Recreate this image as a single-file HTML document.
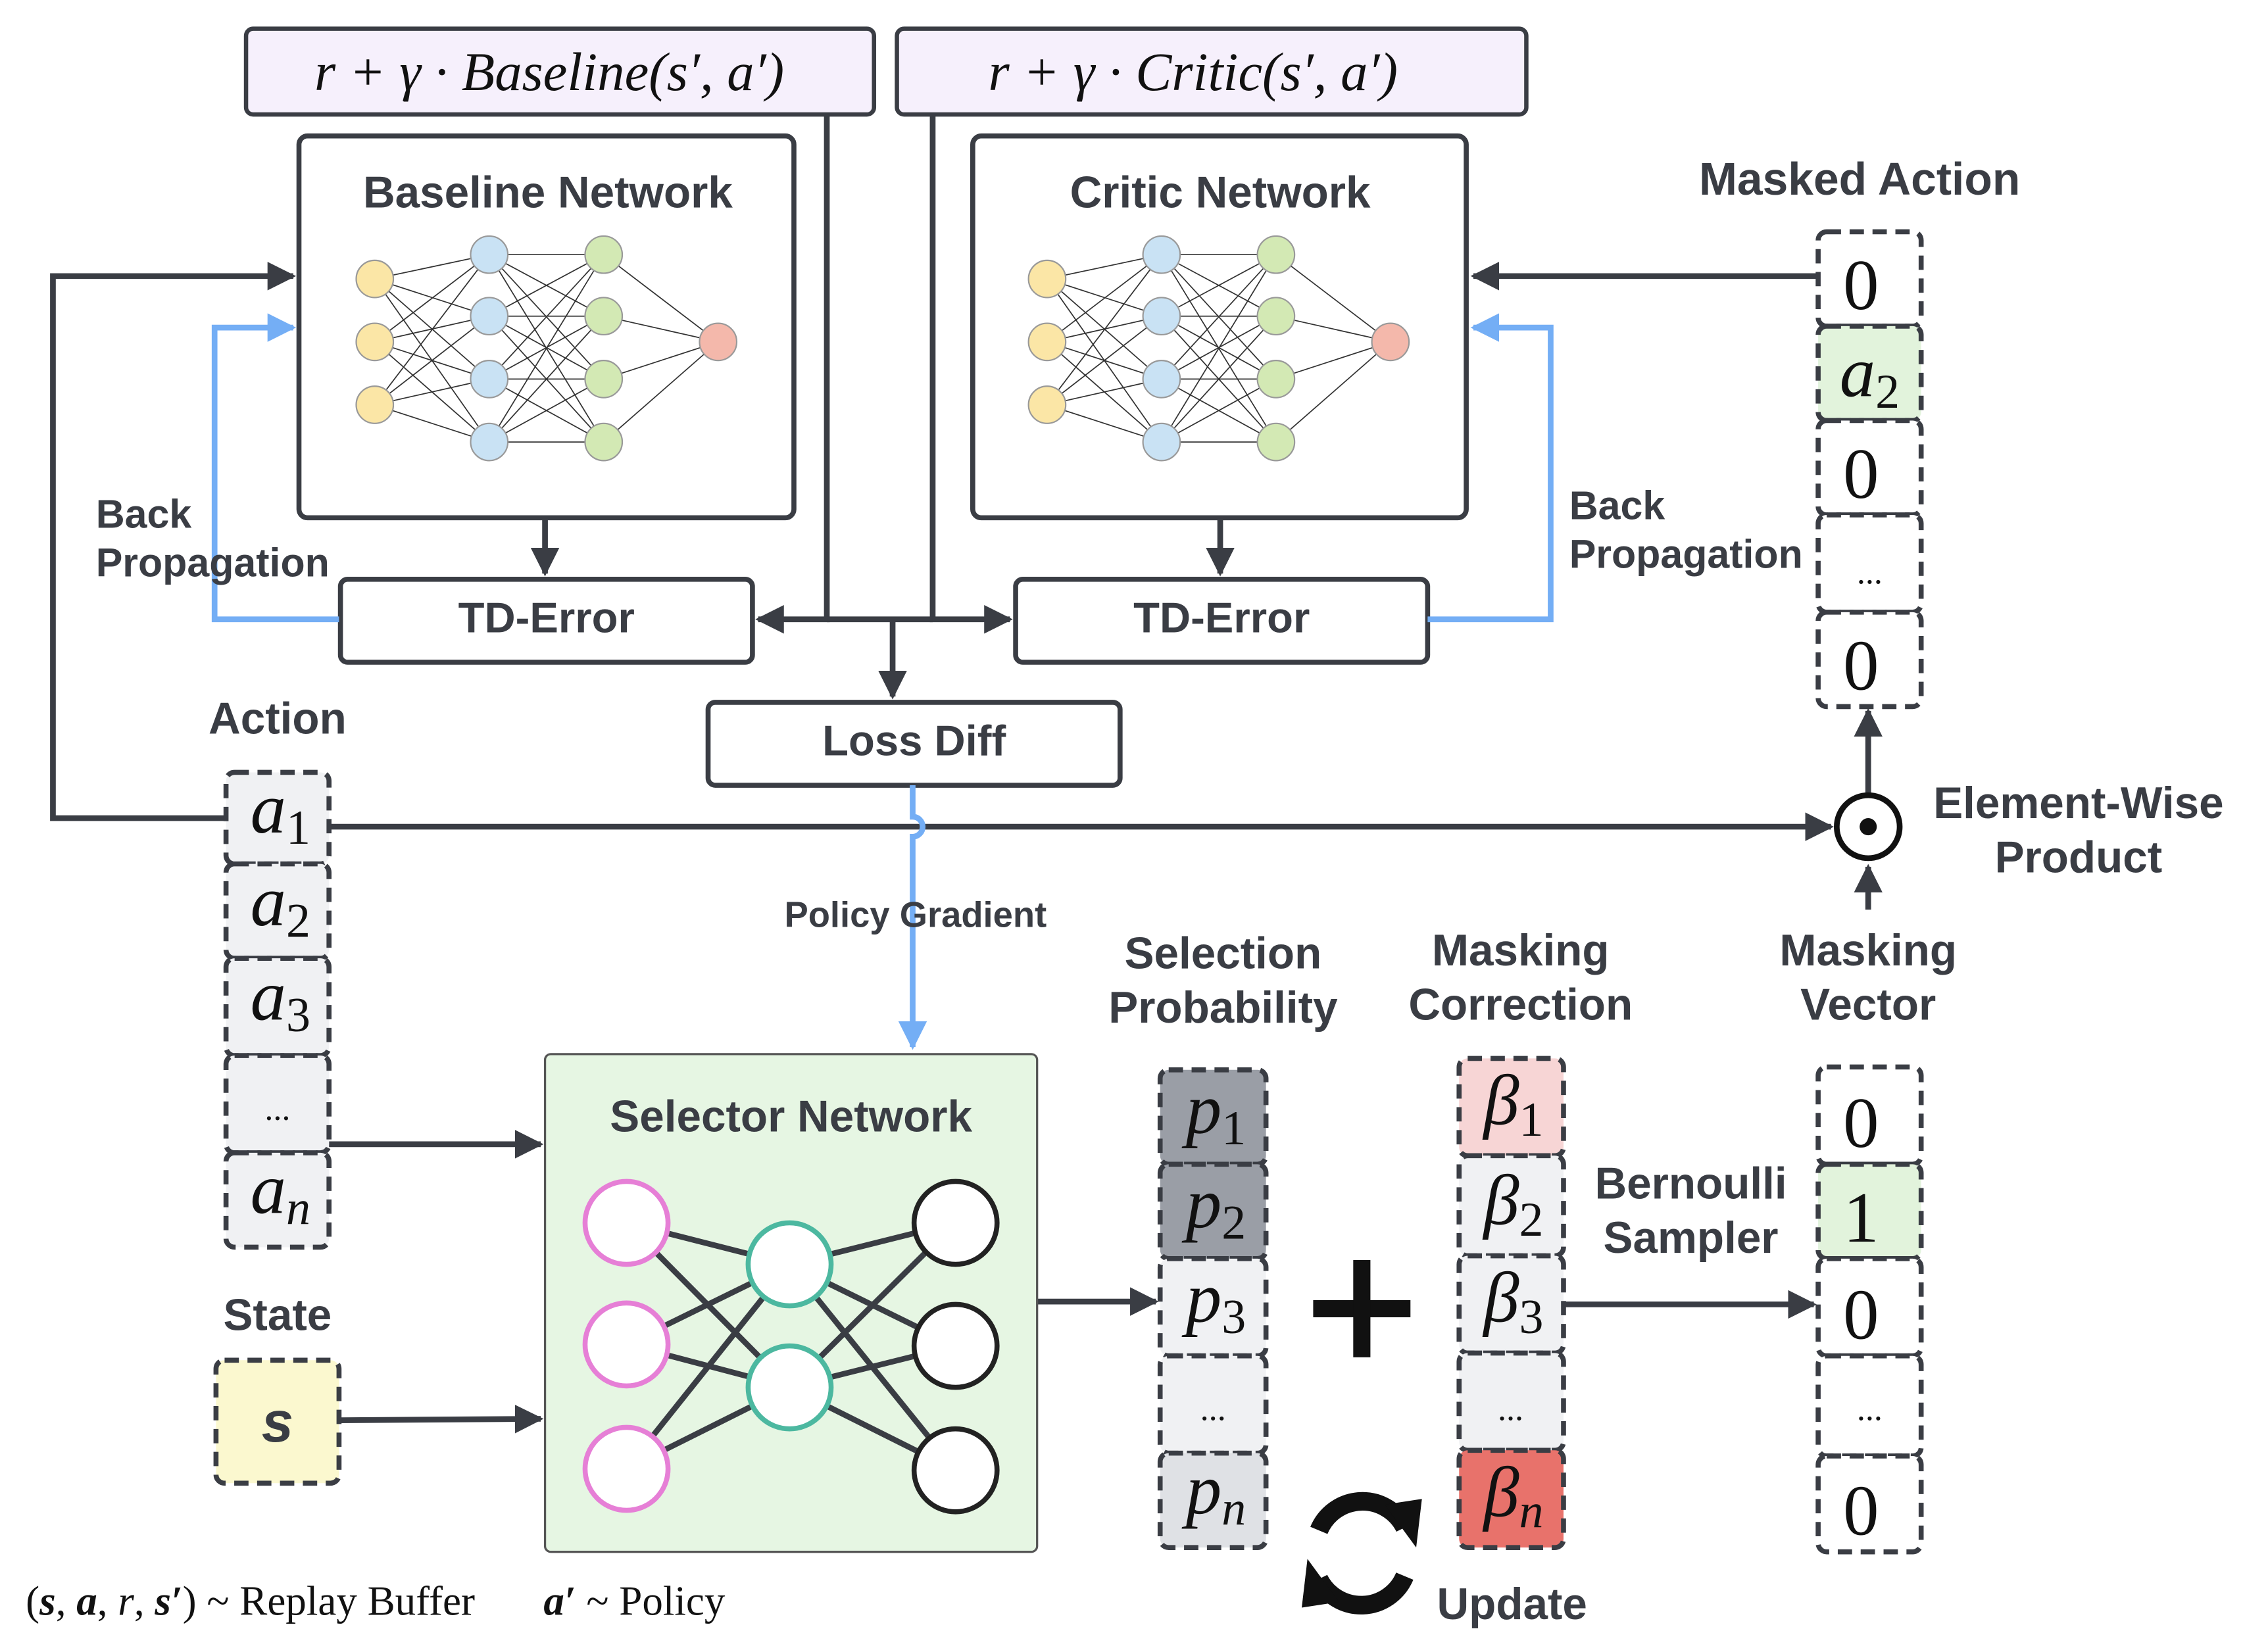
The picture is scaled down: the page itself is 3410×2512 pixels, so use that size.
<!DOCTYPE html>
<html><head><meta charset="utf-8"><style>html,body{margin:0;padding:0;background:#fff}svg{display:block}</style></head>
<body>
<svg width="3410" height="2512" viewBox="0 0 1568 1155" xmlns="http://www.w3.org/2000/svg">
<defs>
<marker id="a" viewBox="0 0 10 10" refX="9" refY="5" markerWidth="20" markerHeight="20" markerUnits="userSpaceOnUse" orient="auto"><path d="M0,0 L10,5 L0,10 z" fill="#3a3d44"/></marker>
<marker id="ab" viewBox="0 0 10 10" refX="9" refY="5" markerWidth="20" markerHeight="20" markerUnits="userSpaceOnUse" orient="auto"><path d="M0,0 L10,5 L0,10 z" fill="#74aef5"/></marker>
</defs>
<g font-family="Liberation Sans, sans-serif" fill="#3a3d44">
<rect x="172" y="20" width="439" height="60" rx="5" fill="#f6f0fc" stroke="#3a3d44" stroke-width="3"/>
<rect x="627" y="20" width="440" height="60" rx="5" fill="#f6f0fc" stroke="#3a3d44" stroke-width="3"/>
<text x="384" y="63" font-family="Liberation Serif, serif" font-style="italic" font-size="38" text-anchor="middle" fill="#111">r + γ · Baseline(s′, a′)</text>
<text x="834" y="63" font-family="Liberation Serif, serif" font-style="italic" font-size="38" text-anchor="middle" fill="#111">r + γ · Critic(s′, a′)</text>
<rect x="209" y="95" width="346" height="267" rx="6" fill="#fff" stroke="#3a3d44" stroke-width="3.5"/>
<rect x="680" y="95" width="345" height="267" rx="6" fill="#fff" stroke="#3a3d44" stroke-width="3.5"/>
<text x="383" y="145" font-size="31" font-weight="bold" text-anchor="middle">Baseline Network</text>
<text x="853" y="145" font-size="31" font-weight="bold" text-anchor="middle">Critic Network</text>
<g id="nn" stroke="#333" stroke-width="0.8">
<g>
<line x1="262" y1="195" x2="342" y2="178"/><line x1="262" y1="195" x2="342" y2="221"/><line x1="262" y1="195" x2="342" y2="265"/><line x1="262" y1="195" x2="342" y2="309"/>
<line x1="262" y1="239" x2="342" y2="178"/><line x1="262" y1="239" x2="342" y2="221"/><line x1="262" y1="239" x2="342" y2="265"/><line x1="262" y1="239" x2="342" y2="309"/>
<line x1="262" y1="283" x2="342" y2="178"/><line x1="262" y1="283" x2="342" y2="221"/><line x1="262" y1="283" x2="342" y2="265"/><line x1="262" y1="283" x2="342" y2="309"/>
<line x1="342" y1="178" x2="422" y2="178"/><line x1="342" y1="178" x2="422" y2="221"/><line x1="342" y1="178" x2="422" y2="265"/><line x1="342" y1="178" x2="422" y2="309"/>
<line x1="342" y1="221" x2="422" y2="178"/><line x1="342" y1="221" x2="422" y2="221"/><line x1="342" y1="221" x2="422" y2="265"/><line x1="342" y1="221" x2="422" y2="309"/>
<line x1="342" y1="265" x2="422" y2="178"/><line x1="342" y1="265" x2="422" y2="221"/><line x1="342" y1="265" x2="422" y2="265"/><line x1="342" y1="265" x2="422" y2="309"/>
<line x1="342" y1="309" x2="422" y2="178"/><line x1="342" y1="309" x2="422" y2="221"/><line x1="342" y1="309" x2="422" y2="265"/><line x1="342" y1="309" x2="422" y2="309"/>
<line x1="422" y1="178" x2="502" y2="239"/><line x1="422" y1="221" x2="502" y2="239"/><line x1="422" y1="265" x2="502" y2="239"/><line x1="422" y1="309" x2="502" y2="239"/>
</g>
<g stroke="#999" stroke-width="1">
<circle cx="262" cy="195" r="13" fill="#fbe6a6"/><circle cx="262" cy="239" r="13" fill="#fbe6a6"/><circle cx="262" cy="283" r="13" fill="#fbe6a6"/>
<circle cx="342" cy="178" r="13" fill="#c9e2f4"/><circle cx="342" cy="221" r="13" fill="#c9e2f4"/><circle cx="342" cy="265" r="13" fill="#c9e2f4"/><circle cx="342" cy="309" r="13" fill="#c9e2f4"/>
<circle cx="422" cy="178" r="13" fill="#d3e9b4"/><circle cx="422" cy="221" r="13" fill="#d3e9b4"/><circle cx="422" cy="265" r="13" fill="#d3e9b4"/><circle cx="422" cy="309" r="13" fill="#d3e9b4"/>
<circle cx="502" cy="239" r="13" fill="#f4b8ab"/>
</g>
</g>
<use href="#nn" transform="translate(470,0)"/>
<rect x="238" y="405" width="288" height="58" rx="5" fill="#fff" stroke="#3a3d44" stroke-width="3.5"/>
<rect x="710" y="405" width="288" height="58" rx="5" fill="#fff" stroke="#3a3d44" stroke-width="3.5"/>
<rect x="495" y="491" width="288" height="58" rx="5" fill="#fff" stroke="#3a3d44" stroke-width="3.5"/>
<text x="382" y="442" font-size="30" font-weight="bold" text-anchor="middle">TD-Error</text>
<text x="854" y="442" font-size="30" font-weight="bold" text-anchor="middle">TD-Error</text>
<text x="639" y="528" font-size="30" font-weight="bold" text-anchor="middle">Loss Diff</text>
<g fill="none" stroke="#3a3d44" stroke-width="4">
<path d="M381,362 V401" marker-end="url(#a)"/>
<path d="M853,362 V401" marker-end="url(#a)"/>
<path d="M578,80 V433 H530" marker-end="url(#a)"/>
<path d="M652,80 V433 H706" marker-end="url(#a)"/>
<path d="M578,433 H652"/>
<path d="M624,433 V487" marker-end="url(#a)"/>
<path d="M158,572 H37 V193 H205" marker-end="url(#a)"/>
<path d="M1271,193 H1030" marker-end="url(#a)"/>
<path d="M230,578 H1280" marker-end="url(#a)"/>
<path d="M230,800 H378" marker-end="url(#a)"/>
<path d="M237,993 L378,992" marker-end="url(#a)"/>
<path d="M725,910 H808" marker-end="url(#a)"/>
<path d="M1093,912 H1268" marker-end="url(#a)"/>
<path d="M1306,636 V606" marker-end="url(#a)"/>
<path d="M1306,556 V497" marker-end="url(#a)"/>
</g>
<g fill="none" stroke="#74aef5" stroke-width="4">
<path d="M237,433 H150 V229 H205" marker-end="url(#ab)"/>
<path d="M998,433 H1084 V229 H1030" marker-end="url(#ab)"/>
<path d="M638,549 V571 A7,7 0 0 1 638,585 V732" marker-end="url(#ab)"/>
</g>
<text x="67" y="369" font-size="28" font-weight="bold">Back</text>
<text x="67" y="403" font-size="28" font-weight="bold">Propagation</text>
<text x="1097" y="363" font-size="28" font-weight="bold">Back</text>
<text x="1097" y="397" font-size="28" font-weight="bold">Propagation</text>
<text x="640" y="648" font-size="25" font-weight="bold" text-anchor="middle">Policy Gradient</text>
<circle cx="1306" cy="578" r="22" fill="#fff" stroke="#111" stroke-width="4"/>
<circle cx="1306" cy="578" r="6" fill="#111"/>
<text x="1453" y="572" font-size="31" font-weight="bold" text-anchor="middle">Element-Wise</text>
<text x="1453" y="610" font-size="31" font-weight="bold" text-anchor="middle">Product</text>
<text x="1300" y="136" font-size="32" font-weight="bold" text-anchor="middle">Masked Action</text>
<text x="194" y="513" font-size="31" font-weight="bold" text-anchor="middle">Action</text>
<text x="194" y="930" font-size="31" font-weight="bold" text-anchor="middle">State</text>
<text x="855" y="677" font-size="31" font-weight="bold" text-anchor="middle">Selection</text>
<text x="855" y="715" font-size="31" font-weight="bold" text-anchor="middle">Probability</text>
<text x="1063" y="675" font-size="31" font-weight="bold" text-anchor="middle">Masking</text>
<text x="1063" y="713" font-size="31" font-weight="bold" text-anchor="middle">Correction</text>
<text x="1306" y="675" font-size="31" font-weight="bold" text-anchor="middle">Masking</text>
<text x="1306" y="713" font-size="31" font-weight="bold" text-anchor="middle">Vector</text>
<text x="1182" y="838" font-size="31" font-weight="bold" text-anchor="middle">Bernoulli</text>
<text x="1182" y="876" font-size="31" font-weight="bold" text-anchor="middle">Sampler</text>
<text x="1057" y="1132" font-size="31" font-weight="bold" text-anchor="middle">Update</text>
<g stroke="#3a3d44" stroke-width="3.5" stroke-dasharray="10,6">
<rect x="1271" y="162" width="72" height="66" rx="6" fill="#fff"/>
<rect x="1271" y="228" width="72" height="66" rx="6" fill="#e2f3dc"/>
<rect x="1271" y="294" width="72" height="66" rx="6" fill="#fff"/>
<rect x="1271" y="360" width="72" height="68" rx="6" fill="#fff"/>
<rect x="1271" y="428" width="72" height="66" rx="6" fill="#fff"/>
<rect x="158" y="540" width="72" height="64" rx="6" fill="#f0f1f3"/>
<rect x="158" y="604" width="72" height="66" rx="6" fill="#f0f1f3"/>
<rect x="158" y="670" width="72" height="68" rx="6" fill="#f0f1f3"/>
<rect x="158" y="738" width="72" height="68" rx="6" fill="#f0f1f3"/>
<rect x="158" y="806" width="72" height="66" rx="6" fill="#f0f1f3"/>
<rect x="151" y="951" width="86" height="86" rx="6" fill="#fbf8cf"/>
<rect x="811" y="748" width="74" height="66" rx="6" fill="#9a9ea6"/>
<rect x="811" y="814" width="74" height="66" rx="6" fill="#9a9ea6"/>
<rect x="811" y="880" width="74" height="68" rx="6" fill="#f0f1f3"/>
<rect x="811" y="948" width="74" height="68" rx="6" fill="#f0f1f3"/>
<rect x="811" y="1016" width="74" height="66" rx="6" fill="#dfe1e5"/>
<rect x="1020" y="740" width="73" height="68" rx="6" fill="#f7d5d5"/>
<rect x="1020" y="808" width="73" height="70" rx="6" fill="#f0f1f3"/>
<rect x="1020" y="878" width="73" height="68" rx="6" fill="#f0f1f3"/>
<rect x="1020" y="946" width="73" height="68" rx="6" fill="#f0f1f3"/>
<rect x="1020" y="1014" width="73" height="68" rx="6" fill="#e8726b"/>
<rect x="1271" y="746" width="72" height="68" rx="6" fill="#fff"/>
<rect x="1271" y="814" width="72" height="66" rx="6" fill="#e2f3dc"/>
<rect x="1271" y="880" width="72" height="68" rx="6" fill="#fff"/>
<rect x="1271" y="948" width="72" height="70" rx="6" fill="#fff"/>
<rect x="1271" y="1018" width="72" height="67" rx="6" fill="#fff"/>
</g>
<g font-family="Liberation Serif, serif" fill="#111" text-anchor="middle">
<text x="1301" y="216" font-size="50">0</text>
<text x="1307" y="277" font-size="50" font-style="italic">a<tspan font-size="34" font-style="normal" dy="8">2</tspan></text>
<text x="1301" y="348" font-size="50">0</text>
<text x="1307" y="408" font-size="24">...</text>
<text x="1301" y="482" font-size="50">0</text>
<text x="196" y="582" font-size="50" font-style="italic">a<tspan font-size="34" font-style="normal" dy="8">1</tspan></text>
<text x="196" y="647" font-size="50" font-style="italic">a<tspan font-size="34" font-style="normal" dy="8">2</tspan></text>
<text x="196" y="713" font-size="50" font-style="italic">a<tspan font-size="34" font-style="normal" dy="8">3</tspan></text>
<text x="194" y="783" font-size="24">...</text>
<text x="196" y="848" font-size="50" font-style="italic">a<tspan font-size="34" dy="8">n</tspan></text>
<text x="194" y="1008" font-size="40" font-style="italic" font-weight="bold" font-family="Liberation Sans, sans-serif" fill="#3a3d44">s</text>
<text x="850" y="792" font-size="50" font-style="italic">p<tspan font-size="34" font-style="normal" dy="8">1</tspan></text>
<text x="850" y="858" font-size="50" font-style="italic">p<tspan font-size="34" font-style="normal" dy="8">2</tspan></text>
<text x="850" y="924" font-size="50" font-style="italic">p<tspan font-size="34" font-style="normal" dy="8">3</tspan></text>
<text x="848" y="993" font-size="24">...</text>
<text x="850" y="1058" font-size="50" font-style="italic">p<tspan font-size="34" dy="8">n</tspan></text>
<text x="1058" y="786" font-size="50" font-style="italic">β<tspan font-size="34" font-style="normal" dy="8">1</tspan></text>
<text x="1058" y="856" font-size="50" font-style="italic">β<tspan font-size="34" font-style="normal" dy="8">2</tspan></text>
<text x="1058" y="924" font-size="50" font-style="italic">β<tspan font-size="34" font-style="normal" dy="8">3</tspan></text>
<text x="1056" y="993" font-size="24">...</text>
<text x="1058" y="1060" font-size="50" font-style="italic">β<tspan font-size="34" dy="8">n</tspan></text>
<text x="1301" y="802" font-size="50">0</text>
<text x="1301" y="868" font-size="50">1</text>
<text x="1301" y="936" font-size="50">0</text>
<text x="1307" y="993" font-size="24">...</text>
<text x="1301" y="1073" font-size="50">0</text>
</g>
<rect x="381" y="737" width="344" height="348" rx="4" fill="#e6f6e3" stroke="#555" stroke-width="1.5"/>
<text x="553" y="791" font-size="31" font-weight="bold" text-anchor="middle">Selector Network</text>
<g stroke="#3a3d44" stroke-width="4">
<line x1="438" y1="855" x2="552" y2="970"/><line x1="438" y1="940" x2="552" y2="884"/><line x1="438" y1="1027" x2="552" y2="884"/><line x1="438" y1="855" x2="552" y2="884"/><line x1="438" y1="940" x2="552" y2="970"/><line x1="438" y1="1027" x2="552" y2="970"/>
<line x1="552" y1="884" x2="668" y2="855"/><line x1="552" y1="884" x2="668" y2="941"/><line x1="552" y1="884" x2="668" y2="1028"/>
<line x1="552" y1="970" x2="668" y2="855"/><line x1="552" y1="970" x2="668" y2="941"/><line x1="552" y1="970" x2="668" y2="1028"/>
</g>
<g fill="#fff" stroke-width="3.5">
<circle cx="438" cy="855" r="29" stroke="#e67fd6"/><circle cx="438" cy="940" r="29" stroke="#e67fd6"/><circle cx="438" cy="1027" r="29" stroke="#e67fd6"/>
<circle cx="552" cy="884" r="29" stroke="#4cb8a0"/><circle cx="552" cy="970" r="29" stroke="#4cb8a0"/>
<circle cx="668" cy="855" r="29" stroke="#222"/><circle cx="668" cy="941" r="29" stroke="#222"/><circle cx="668" cy="1028" r="29" stroke="#222"/>
</g>
<rect x="918" y="909" width="68" height="12" fill="#111"/>
<rect x="946" y="881" width="12" height="68" fill="#111"/>
<g fill="none" stroke="#111" stroke-width="13">
<path d="M922,1070 A33,33 0 0 1 982,1068"/>
<path d="M982,1102 A33,33 0 0 1 922,1104"/>
</g>
<path d="M968,1052 L994,1048 L990,1082 z" fill="#111"/>
<path d="M936,1120 L910,1124 L914,1090 z" fill="#111"/>
<text x="18" y="1129" font-family="Liberation Serif, serif" font-size="29" fill="#111">(<tspan font-weight="bold" font-style="italic">s</tspan>, <tspan font-weight="bold" font-style="italic">a</tspan>, <tspan font-style="italic">r</tspan>, <tspan font-weight="bold" font-style="italic">s′</tspan>) ~ Replay Buffer</text>
<text x="380" y="1129" font-family="Liberation Serif, serif" font-size="29" fill="#111"><tspan font-weight="bold" font-style="italic">a′</tspan> ~ Policy</text>
</g>
</svg>
</body></html>
